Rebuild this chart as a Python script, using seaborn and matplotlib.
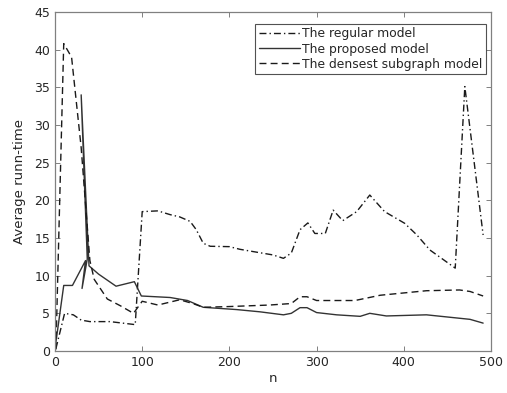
import matplotlib
matplotlib.use("Agg")
import matplotlib.pyplot as plt
import seaborn as sns
import pandas as pd

# The regular model (dash-dot)
reg_x = [1, 11, 21, 30, 40, 63, 92, 100, 118, 132, 143, 155, 162, 170, 178, 200, 212, 227, 250, 262,
         271, 281, 290, 298, 310, 319, 330, 346, 361, 378, 401, 415, 430, 459, 470, 491]
reg_y = [0.3, 5.0, 4.8, 4.1, 3.9, 3.9, 3.5, 18.5, 18.6, 18.1, 17.8, 17.2, 16.1, 14.3, 13.9, 13.85, 13.5, 13.2, 12.75, 12.3,
         13.0, 16.1, 17.0, 15.6, 15.6, 18.7, 17.3, 18.5, 20.7, 18.5, 16.95, 15.4, 13.4, 11.0, 35.1, 15.4]

# The proposed model (solid)
prop_x = [0, 10, 20, 35, 31, 37, 30, 39, 50, 70, 91, 99, 132, 152, 170, 208, 235, 262, 271, 281,
          289, 300, 323, 350, 361, 380, 426, 476, 491]
prop_y = [0.3, 8.7, 8.7, 12.0, 8.3, 12.2, 34.0, 11.3, 10.2, 8.6, 9.2, 7.3, 7.1, 6.7, 5.8, 5.5, 5.2, 4.8, 5.0, 5.75,
          5.75, 5.1, 4.8, 4.6, 5.0, 4.65, 4.8, 4.2, 3.7]

# The densest subgraph model (dashed)
dens_x = [1, 10, 19, 30, 40, 45, 60, 75, 90, 100, 118, 143, 158, 170, 200, 246, 271, 281, 289, 300,
          344, 373, 426, 464, 476, 491]
dens_y = [0.2, 40.8, 39.0, 27.0, 12.0, 9.5, 6.9, 6.0, 5.0, 6.6, 6.1, 6.8, 6.3, 5.8, 5.9, 6.1, 6.3, 7.2, 7.2, 6.7,
          6.7, 7.4, 8.0, 8.1, 7.9, 7.3]

labels = ["The regular model", "The proposed model", "The densest subgraph model"]
xticks = [0, 100, 200, 300, 400, 500]
yticks = [0, 5, 10, 15, 20, 25, 30, 35, 40, 45]

sns.set_theme(style="white")
plt.rcParams['font.family'] = ['DejaVu Sans']

fig = plt.figure(figsize=(5.07, 3.93), dpi=100)
ax = fig.add_axes([0.1085, 0.1069, 0.9684 - 0.1085, 0.9695 - 0.1069])

styles = [(0, (5, 2.2, 1, 2.2)), "-", (0, (5, 3))]
colors = ["#1a1a1a", "#333333", "#1a1a1a"]
series = [(reg_x, reg_y), (prop_x, prop_y), (dens_x, dens_y)]
for (xs, ys), lab, ls, c in zip(series, labels, styles, colors):
    df = pd.DataFrame({"n": xs, "t": ys})
    sns.lineplot(data=df, x="n", y="t", sort=False, estimator=None, ax=ax,
                 color=c, linewidth=1.0, linestyle=ls, label=lab)

ax.set_xlim(0, 500)
ax.set_ylim(0, 45)
ax.set_xticks(xticks)
ax.set_yticks(yticks)
ax.set_xlabel("n", fontsize=9.5, color="#262626", labelpad=2)
ax.set_ylabel("Average runn-time", fontsize=9.5, color="#262626", labelpad=6)
ax.tick_params(direction="in", length=3.5, width=0.7, colors="#808080", labelcolor="#262626",
               labelsize=9, top=True, right=True, bottom=True, left=True)
for s in ax.spines.values():
    s.set_color("#808080")
    s.set_linewidth(0.9)

leg = ax.legend(loc="upper right", bbox_to_anchor=(0.995, 0.973), fontsize=8.9, frameon=True,
                fancybox=False, edgecolor="#262626", handlelength=3.3, handletextpad=0.2,
                borderpad=0.3, labelspacing=0.18, borderaxespad=0.2)
leg.get_frame().set_linewidth(0.8)

fig.savefig("out.png", dpi=100)
